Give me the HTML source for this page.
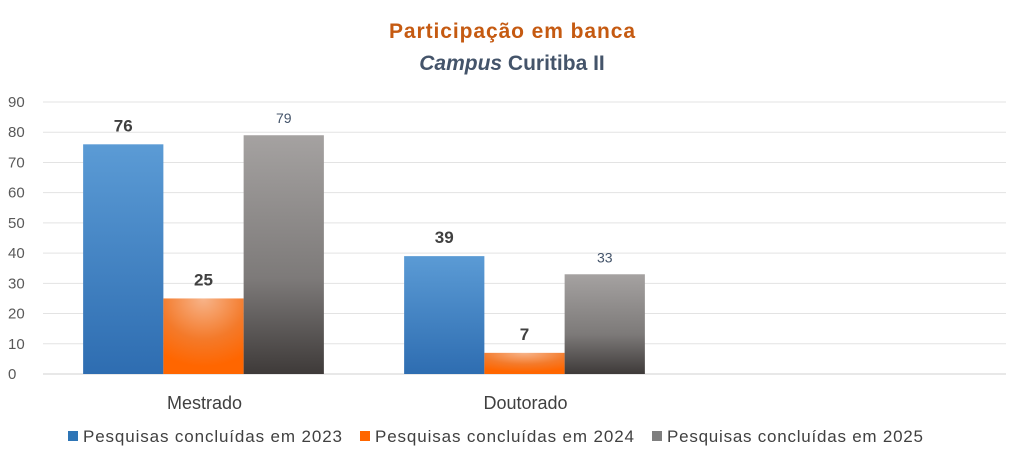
<!DOCTYPE html>
<html><head><meta charset="utf-8"><style>
body{margin:0;background:#fff;width:1024px;height:470px;overflow:hidden;font-family:"Liberation Sans",sans-serif}
</style></head><body>
<svg id="chart" width="1024" height="470" xmlns="http://www.w3.org/2000/svg">
<defs>
<linearGradient id="gBlue" x1="0" y1="0" x2="0" y2="1"><stop offset="0" stop-color="#5b9bd5"/><stop offset="1" stop-color="#2e6db1"/></linearGradient>
<radialGradient id="gOrange" cx="0.5" cy="0" r="0.9"><stop offset="0" stop-color="#f7b48a"/><stop offset="0.6" stop-color="#f47a2a"/><stop offset="1" stop-color="#ff6600"/></radialGradient>
<linearGradient id="gGray" x1="0" y1="0" x2="0" y2="1"><stop offset="0" stop-color="#a5a2a1"/><stop offset="0.6" stop-color="#7d7a79"/><stop offset="1" stop-color="#3e3a39"/></linearGradient>
</defs>
<text x="512" y="38" text-anchor="middle" font-size="21" font-weight="bold" fill="#c55a11" textLength="246">Participação  em banca</text>
<text x="512" y="70" text-anchor="middle" font-size="21" font-weight="bold" fill="#44546a"><tspan font-style="italic">Campus</tspan> Curitiba II</text>
<g id="grid"></g><g id="bars"></g><g id="labels"></g>
<g font-size="17" fill="#404040">
<rect x="68" y="431" width="10" height="10" fill="#2e75b6"/>
<text x="83" y="442" textLength="259">Pesquisas concluídas em 2023</text>
<rect x="360" y="431" width="10" height="10" fill="#ff6600"/>
<text x="375" y="442" textLength="259">Pesquisas concluídas em 2024</text>
<rect x="652" y="431" width="10" height="10" fill="#7f7f7f"/>
<text x="667" y="442" textLength="256">Pesquisas concluídas em 2025</text>
</g>
</svg>
<script>
const categories=["Mestrado","Doutorado",""];
const s2023=[76,39,null];
const s2024=[25,7,null];
const s2025=[79,33,null];
const ticks=[0,10,20,30,40,50,60,70,80,90];
const NS="http://www.w3.org/2000/svg";
const x0=43,x1=1006,yBase=374,yTop=102,maxV=90;
const y=v=>yBase-(v/maxV)*(yBase-yTop);
const cw=(x1-x0)/categories.length;
function mk(t,a,p){const e=document.createElementNS(NS,t);for(const k in a)e.setAttribute(k,a[k]);p.appendChild(e);return e;}
const grid=document.getElementById('grid'),bars=document.getElementById('bars'),labels=document.getElementById('labels');
ticks.forEach(t=>{
 const l=mk('line',{x1:x0,x2:x1,y1:y(t),y2:y(t),stroke:t===0?'#d0d0d0':'#e3e3e3','stroke-width':1},grid);
 
 
 const tx=mk('text',{x:8,y:y(t)+5,'text-anchor':'start','font-size':15,fill:'#595959'},grid);
 tx.textContent=t;
 
 
});
const series=[[s2023,'url(#gBlue)','2023',true,'#404040'],[s2024,'url(#gOrange)','2024',true,'#404040'],[s2025,'url(#gGray)','2025',false,'#44546a']];
const bw=cw/4;
categories.forEach((c,i)=>{
 const cx=x0+cw*i+cw/2;
 if(c){const t=mk('text',{x:cx+1,y:409,'text-anchor':'middle','font-size':18,fill:'#404040'},labels);
 t.textContent=c;
 
 }
 series.forEach((s,j)=>{
  const v=s[0][i]; if(v==null) return;
  const bx=cx-1.5*bw+j*bw;
  const r=mk('rect',{x:bx,y:y(v),width:bw,height:yBase-y(v),fill:s[1]},bars);
  
  
  const t=mk('text',{x:bx+bw/2,y:y(v)-(s[3]?13:12),'text-anchor':'middle','font-size':s[3]?17:14,'font-weight':s[3]?'bold':'normal',fill:s[4]},labels);
  t.textContent=v;
  
  
 });
});
</script>
</body></html>
